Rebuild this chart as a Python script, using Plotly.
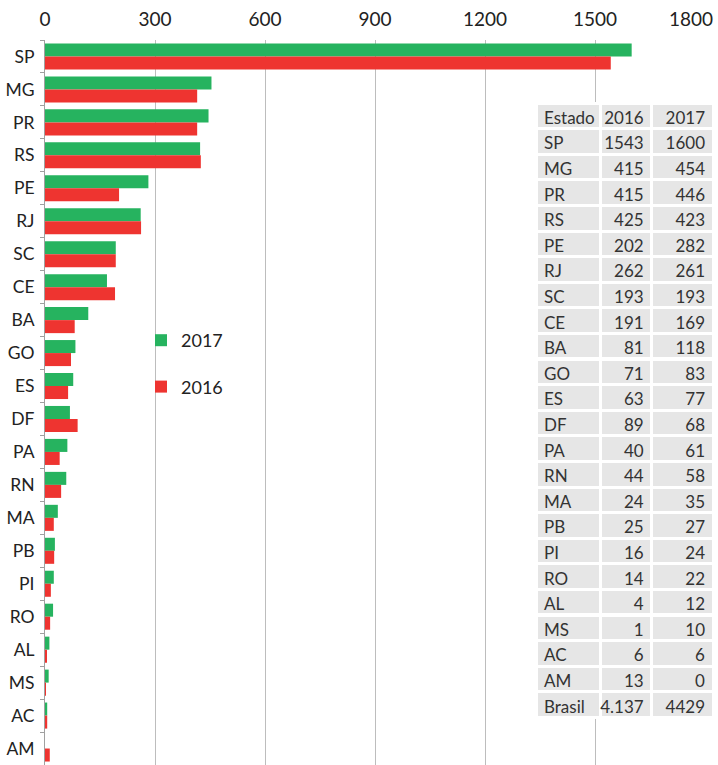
import plotly.graph_objects as go

estados = ["SP", "MG", "PR", "RS", "PE", "RJ", "SC", "CE", "BA", "GO", "ES",
           "DF", "PA", "RN", "MA", "PB", "PI", "RO", "AL", "MS", "AC", "AM"]
v2016 = [1543, 415, 415, 425, 202, 262, 193, 191, 81, 71, 63,
         89, 40, 44, 24, 25, 16, 14, 4, 1, 6, 13]
v2017 = [1600, 454, 446, 423, 282, 261, 193, 169, 118, 83, 77,
         68, 61, 58, 35, 27, 24, 22, 12, 10, 6, 0]
total_label = "Brasil"
total_2016 = "4.137"
total_2017 = "4429"
x_ticks = [0, 300, 600, 900, 1200, 1500]
x_last_tick = [1800]

GREEN = "#26b35f"
RED = "#ee3430"
FONT = "Lato, 'Liberation Sans', sans-serif"

fig = go.Figure()
fig.add_trace(go.Bar(y=estados, x=v2017, orientation="h", name="2017",
                     marker=dict(color=GREEN, line=dict(width=0)),
                     legendgroup="a"))
fig.add_trace(go.Bar(y=estados, x=v2016, orientation="h", name="2016",
                     marker=dict(color=RED, line=dict(width=0)),
                     legendgroup="b"))

W, H = 718, 765
ml, mr, mt, mb = 45, 4, 40, 0
pw = W - ml - mr
ph = H - mt - mb

def px_x(p):
    return (p - ml) / pw

def px_y(p):
    return 1 - (p - mt) / ph

cells_est = estados + [total_label]
cells_16 = [str(v) for v in v2016] + [total_2016]
cells_17 = [str(v) for v in v2017] + [total_2017]

ROWH = 25.6
fig.add_trace(go.Table(
    domain=dict(x=[px_x(536), px_x(713)], y=[px_y(725), px_y(103)]),
    columnwidth=[63, 50, 60],
    header=dict(values=["Estado", "2016", "2017"],
                fill_color="#e6e6e6",
                line=dict(color="white", width=3),
                align=["left", "right", "right"],
                font=dict(family=FONT, size=17, color="#333333"),
                height=ROWH),
    cells=dict(values=[cells_est, cells_16, cells_17],
               fill_color="#e6e6e6",
               line=dict(color="white", width=3),
               align=["left", "right", "right"],
               font=dict(family=FONT, size=17, color="#333333"),
               height=ROWH),
))

xdom = [0, 660 / pw]
fig.update_layout(
    width=W, height=H,
    margin=dict(l=ml, r=mr, t=mt, b=mb, autoexpand=False),
    paper_bgcolor="white", plot_bgcolor="white",
    barmode="group", bargap=0.21, bargroupgap=0,
    font=dict(family=FONT, size=16, color="#222222"),
    showlegend=True,
    legend=dict(x=px_x(141), y=px_y(322), xanchor="left", yanchor="top",
                bgcolor="rgba(0,0,0,0)", font=dict(size=18, color="#222222"),
                traceorder="grouped", tracegroupgap=20),
    xaxis=dict(side="top", range=[0, 1800], tickvals=x_ticks,
               domain=xdom, automargin=False,
               showgrid=True, gridcolor="#bdbdbd", gridwidth=1,
               zeroline=False, showline=False, ticks="",
               ticklabelstandoff=9,
               tickfont=dict(size=19, color="#222222")),
    xaxis2=dict(side="top", range=[0, 1800], tickvals=x_last_tick,
                overlaying="x", domain=xdom, automargin=False,
                showgrid=True, gridcolor="#bdbdbd", gridwidth=1,
                zeroline=False, showline=False, ticks="",
                ticklabelshift=-14, ticklabeloverflow="allow",
                ticklabelstandoff=9,
                tickfont=dict(size=19, color="#222222")),
    yaxis=dict(autorange="reversed", type="category", automargin=False,
               showline=True, linecolor="#a0a0a0", linewidth=1,
               ticks="outside", tickson="boundaries", ticklen=4,
               tickcolor="#a0a0a0", showgrid=False,
               tickfont=dict(size=17.5, color="#222222"), ticklabelstandoff=6),
)
# invisible trace to activate xaxis2
fig.add_trace(go.Scatter(x=[None], y=[None], xaxis="x2", yaxis="y",
                         showlegend=False, hoverinfo="skip"))

fig.write_html("out.html",
               config={"displayModeBar": False},
               post_script="document.body.style.margin='0';document.body.style.padding='0';")
